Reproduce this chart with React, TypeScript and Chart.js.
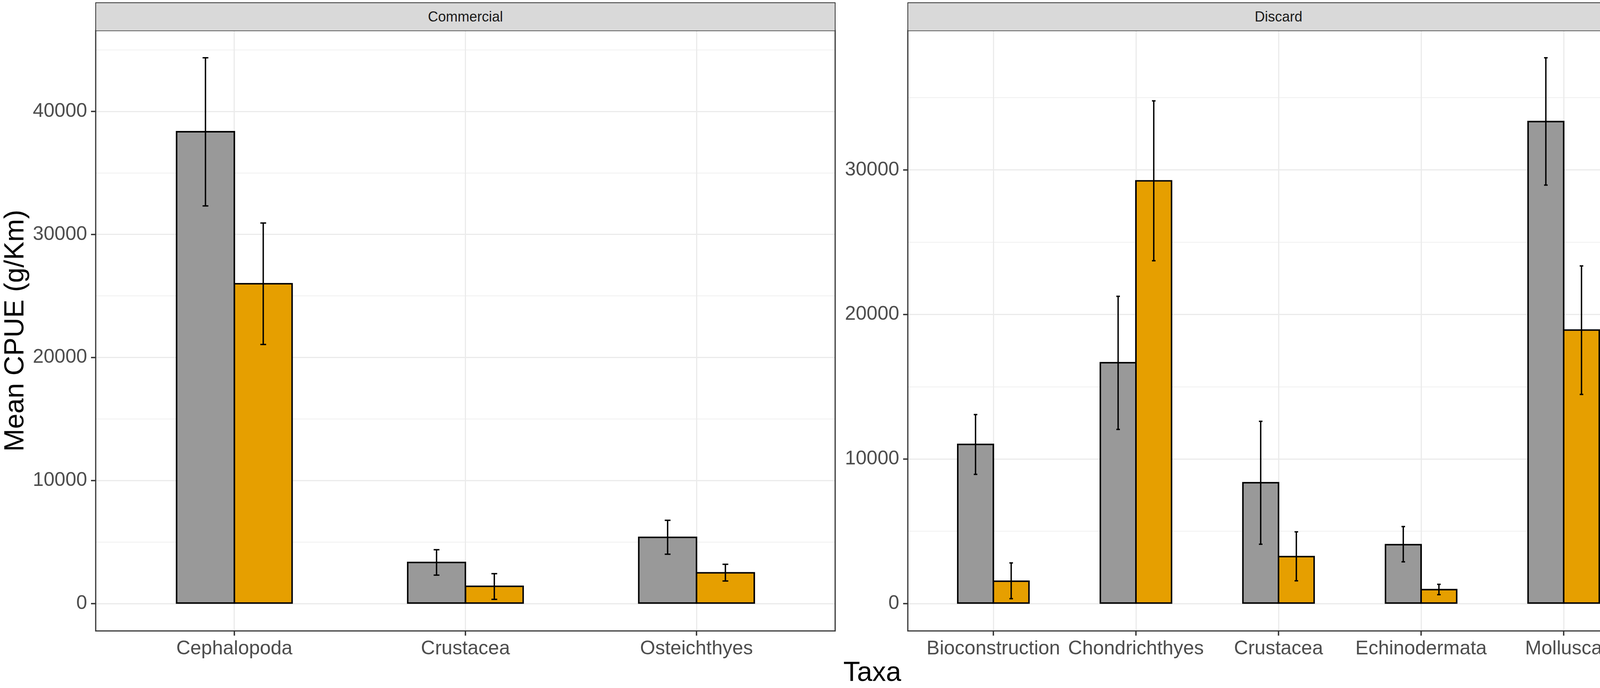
import { useEffect, useRef } from "react"
import { Chart, registerables } from "chart.js"

Chart.register(...registerables)

const FONT = "'Liberation Sans', Arial, Helvetica, sans-serif"

const groups = ["CN", "GN"]
const groupColors = ["#999999", "#E69F00"]

// Commercial panel
const commercialTaxa = ["Cephalopoda", "Crustacea", "Osteichthyes"]
const commercialCN = [38350, 3350, 5390]
const commercialCNLow = [32320, 2320, 4020]
const commercialCNHigh = [44360, 4380, 6770]
const commercialGN = [26000, 1410, 2510]
const commercialGNLow = [21060, 350, 1840]
const commercialGNHigh = [30930, 2440, 3200]
const commercialTicks = [0, 5000, 10000, 15000, 20000, 25000, 30000, 35000, 40000, 45000]

// Discard panel
const discardTaxa = ["Bioconstruction", "Chondrichthyes", "Crustacea", "Echinodermata", "Mollusca"]
const discardCN = [11020, 16670, 8370, 4080, 33350]
const discardCNLow = [8940, 12050, 4110, 2890, 28950]
const discardCNHigh = [13080, 21260, 12610, 5330, 37760]
const discardGN = [1550, 29250, 3260, 970, 18930]
const discardGNLow = [340, 23720, 1580, 620, 14470]
const discardGNHigh = [2820, 34780, 4970, 1340, 23360]
const discardTicks = [0, 5000, 10000, 15000, 20000, 25000, 30000, 35000]

const labelledTicks = [0, 10000, 20000, 30000, 40000]

const TICK = 12

interface PanelProps {
  taxa: string[]
  means: number[][]
  lows: number[][]
  highs: number[][]
  ticks: number[]
  left: number
  width: number
  axisWidth: number
  yTitle?: string
}

function Panel({ taxa, means, lows, highs, ticks, left, width, axisWidth, yTitle }: PanelProps) {
  const canvasRef = useRef<HTMLCanvasElement>(null)

  useEffect(() => {
    if (!canvasRef.current) return
    const top = Math.max(...highs.flat())

    // error bars, axis ticks and the panel frame, drawn last
    const overlay = {
      id: "overlay",
      afterDraw(chart: Chart) {
        const { ctx, chartArea } = chart
        const x = chart.scales.x
        const y = chart.scales.y
        ctx.save()
        ctx.strokeStyle = "#000000"
        ctx.lineWidth = 3.5
        means.forEach((_, di) => {
          chart.getDatasetMeta(di).data.forEach((bar: any, i: number) => {
            const cap = bar.width * 0.05
            const y0 = y.getPixelForValue(lows[di][i])
            const y1 = y.getPixelForValue(highs[di][i])
            ctx.beginPath()
            ctx.moveTo(bar.x, y0)
            ctx.lineTo(bar.x, y1)
            ctx.moveTo(bar.x - cap, y0)
            ctx.lineTo(bar.x + cap, y0)
            ctx.moveTo(bar.x - cap, y1)
            ctx.lineTo(bar.x + cap, y1)
            ctx.stroke()
          })
        })
        ctx.strokeStyle = "#333333"
        ctx.lineWidth = 3.5
        for (let i = 0; i < taxa.length; i++) {
          const px = x.getPixelForValue(i)
          ctx.beginPath()
          ctx.moveTo(px, chartArea.bottom)
          ctx.lineTo(px, chartArea.bottom + TICK)
          ctx.stroke()
        }
        for (const t of labelledTicks) {
          if (t > y.max) continue
          const py = y.getPixelForValue(t)
          ctx.beginPath()
          ctx.moveTo(chartArea.left - TICK, py)
          ctx.lineTo(chartArea.left, py)
          ctx.stroke()
        }
        ctx.lineWidth = 3
        ctx.strokeRect(chartArea.left, chartArea.top, chartArea.right - chartArea.left, chartArea.bottom - chartArea.top)
        ctx.restore()
      },
    }

    const chart = new Chart(canvasRef.current, {
      type: "bar",
      data: {
        datasets: groups.map((g, di) => ({
          label: g,
          data: means[di].map((v, i) => ({ x: i, y: v })),
          backgroundColor: groupColors[di],
          borderColor: "#000000",
          borderWidth: 4,
          borderSkipped: false,
          inflateAmount: 2,
        })),
      },
      options: {
        animation: false,
        responsive: false,
        events: [],
        layout: { padding: { top: 78, right: 4, bottom: 0, left: 0 } },
        datasets: { bar: { categoryPercentage: 0.5, barPercentage: 1 } },
        plugins: { legend: { display: false }, tooltip: { enabled: false } },
        scales: {
          x: {
            type: "linear",
            min: -0.6,
            max: taxa.length - 0.4,
            offset: false,
            afterBuildTicks: (scale: any) => {
              scale.ticks = taxa.map((_, i) => ({ value: i }))
            },
            afterFit: (scale: any) => {
              scale.height = 86
            },
            border: { display: false },
            grid: {
              offset: false,
              color: "#ebebeb",
              lineWidth: 3,
              tickColor: "rgba(0,0,0,0)",
              tickLength: TICK,
            },
            ticks: {
              autoSkip: false,
              maxRotation: 0,
              padding: 4,
              color: "#4d4d4d",
              font: { family: FONT, size: 50 },
              callback: (v: any) => taxa[v] ?? "",
            },
          },
          y: {
            type: "linear",
            min: -0.05 * top,
            max: 1.05 * top,
            afterBuildTicks: (scale: any) => {
              scale.ticks = ticks.map((t) => ({ value: t }))
            },
            afterFit: (scale: any) => {
              scale.width = axisWidth
            },
            border: { display: false },
            grid: {
              color: "#ebebeb",
              lineWidth: (c: any) => (labelledTicks.includes(c.tick?.value) ? 3 : 1.6),
              tickColor: "rgba(0,0,0,0)",
              tickLength: TICK,
            },
            ticks: {
              padding: 10,
              color: "#4d4d4d",
              font: { family: FONT, size: 50 },
              callback: (v: any) => (labelledTicks.includes(v) ? String(v) : ""),
            },
            title: {
              display: !!yTitle,
              text: yTitle ?? "",
              color: "#000000",
              font: { family: FONT, size: 70, lineHeight: 1.15 },
              padding: { top: 0, bottom: 0 },
            },
          },
        },
      },
      plugins: [overlay],
    } as any)

    return () => {
      chart.destroy()
    }
  }, [taxa, means, lows, highs, ticks, axisWidth, yTitle])

  return (
    <canvas
      ref={canvasRef}
      width={width}
      height={1700}
      style={{ position: "absolute", left, top: 0, width, height: 1700 }}
    />
  )
}

function Strip({ text, left, right }: { text: string; left: number; right: number }) {
  return (
    <div
      style={{
        position: "absolute",
        left: left - 1,
        top: 6,
        width: right - left + 2,
        height: 72,
        boxSizing: "border-box",
        background: "#d9d9d9",
        borderTop: "2px solid #333333",
        borderLeft: "2px solid #333333",
        borderRight: "2px solid #333333",
        display: "flex",
        alignItems: "center",
        justifyContent: "center",
        fontFamily: FONT,
        fontSize: 36,
        color: "#1a1a1a",
      }}
    >
      {text}
    </div>
  )
}

export default function App() {
  useEffect(() => {
    document.body.style.margin = "0"
  }, [])

  return (
    <div style={{ position: "relative", width: 4448, height: 1760, background: "#ffffff", overflow: "hidden" }}>
      <Panel
        taxa={commercialTaxa}
        means={[commercialCN, commercialGN]}
        lows={[commercialCNLow, commercialGNLow]}
        highs={[commercialCNHigh, commercialGNHigh]}
        ticks={commercialTicks}
        left={0}
        width={2142}
        axisWidth={245}
        yTitle="Mean CPUE (g/Km)"
      />
      <Panel
        taxa={discardTaxa}
        means={[discardCN, discardGN]}
        lows={[discardCNLow, discardGNLow]}
        highs={[discardCNHigh, discardGNHigh]}
        ticks={discardTicks}
        left={2160}
        width={2066}
        axisWidth={164}
      />
      <Strip text="Commercial" left={245} right={2138} />
      <Strip text="Discard" left={2324} right={4222} />
      <div
        style={{
          position: "absolute",
          left: 2233 - 300,
          width: 600,
          top: 1678,
          textAlign: "center",
          fontFamily: FONT,
          fontSize: 70,
          lineHeight: "80px",
          color: "#000000",
        }}
      >
        Taxa
      </div>
      {groups.map((g, i) => (
        <div key={g}>
          <div
            style={{
              position: "absolute",
              left: 4288,
              top: 788 + i * 71,
              width: 69,
              height: 69,
              boxSizing: "border-box",
              border: "4px solid #000000",
              background: groupColors[i],
            }}
          />
          <div
            style={{
              position: "absolute",
              left: 4383,
              top: 788 + i * 71,
              height: 69,
              lineHeight: "69px",
              fontFamily: FONT,
              fontSize: 36,
              color: "#000000",
            }}
          >
            {g}
          </div>
        </div>
      ))}
    </div>
  )
}
